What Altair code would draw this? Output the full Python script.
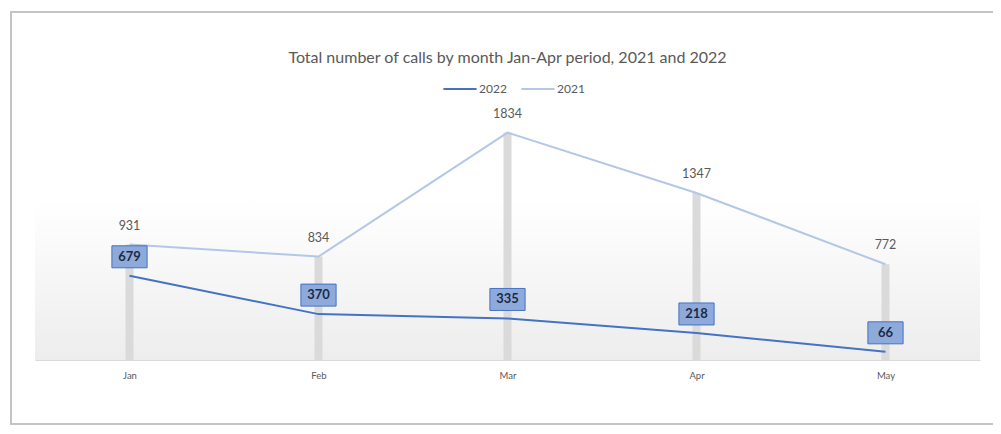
import altair as alt
import pandas as pd

months = ["Jan", "Feb", "Mar", "Apr", "May"]
calls_2021 = [931, 834, 1834, 1347, 772]
calls_2022 = [679, 370, 335, 218, 66]
series = ["2022", "2021"]
title_text = "Total number of calls by month Jan-Apr period, 2021 and 2022"

W, H = 945, 248
FONT = "Lato"

long_df = pd.DataFrame({
    "month": months * 2,
    "year": ["2022"] * len(months) + ["2021"] * len(months),
    "calls": calls_2022 + calls_2021,
})
wide_df = pd.DataFrame({"month": months, "v2021": calls_2021, "v2022": calls_2022})
one = pd.DataFrame({"a": [0]})

x_enc = alt.X("month:N", sort=months, scale=alt.Scale(type="point", padding=0.5),
              axis=alt.Axis(title=None, ticks=False, labelFont=FONT, labelFontSize=9.5,
                            labelColor="#595959", labelPadding=10, domainColor="#d9d9d9",
                            domainWidth=1, labelAngle=0))
y_scale = alt.Scale(domain=[0, 2000])

background = alt.Chart(one).mark_rect(
    color=alt.Gradient(gradient="linear", x1=0, x2=0, y1=0, y2=1,
                       stops=[alt.GradientStop(offset=0, color="#ffffff"),
                              alt.GradientStop(offset=0.35, color="#ffffff"),
                              alt.GradientStop(offset=1, color="#ededed")])
).encode(x=alt.value(0), x2=alt.value(W), y=alt.value(0), y2=alt.value(H))

frame = alt.Chart(one).mark_rect(fill=None, stroke="#c4c4c4", strokeWidth=2).encode(
    x=alt.value(-24), x2=alt.value(985), y=alt.value(-100), y2=alt.value(312))

drops = alt.Chart(wide_df).mark_rule(color="#dadada", strokeWidth=8).encode(
    x=x_enc,
    y=alt.Y("v2021:Q", scale=y_scale, axis=None),
    y2=alt.datum(0),
)

lines = alt.Chart(long_df).mark_line(strokeWidth=2).encode(
    x=x_enc,
    y=alt.Y("calls:Q", scale=y_scale, axis=None),
    color=alt.Color("year:N", scale=alt.Scale(domain=series, range=["#4472c4", "#b4c7e7"]),
                    legend=alt.Legend(title=None, orient="none", legendX=407, legendY=-41,
                                      direction="horizontal", symbolType="stroke",
                                      symbolSize=1100, symbolStrokeWidth=2,
                                      labelFont=FONT, labelFontSize=12, labelColor="#595959",
                                      columnPadding=10, labelOffset=1)),
    order=alt.Order("month_idx:Q"),
).transform_calculate(month_idx="indexof(%s, datum.month)" % str(months))

labels_2021 = alt.Chart(wide_df).mark_text(dy=-19, font=FONT, fontSize=12.5, color="#595959").encode(
    x=x_enc, y=alt.Y("v2021:Q", scale=y_scale, axis=None), text="v2021:Q")

boxes = alt.Chart(wide_df).mark_point(
    shape="M-1.6,-1L1.6,-1L1.6,1L-1.6,1Z", size=484, filled=True,
    fill="#8eaadb", stroke="#4472c4", strokeWidth=1, opacity=1, yOffset=-19,
).encode(x=x_enc, y=alt.Y("v2022:Q", scale=y_scale, axis=None))

labels_2022 = alt.Chart(wide_df).mark_text(dy=-19, font=FONT, fontSize=13, fontWeight="bold",
                                           color="#1e2a44").encode(
    x=x_enc, y=alt.Y("v2022:Q", scale=y_scale, axis=None), text="v2022:Q")

chart = alt.layer(background, frame, drops, lines, labels_2021, boxes, labels_2022).properties(
    width=W, height=H,
    title=alt.TitleParams(title_text, font=FONT, fontSize=16, fontWeight="normal",
                          color="#595959", anchor="middle", frame="group", offset=-55),
    padding={"left": 27, "top": 104, "right": 13, "bottom": 66},
    autosize="none",
).configure_view(stroke=None)

chart.save("out.html", embed_options={"renderer": "svg", "actions": False})
